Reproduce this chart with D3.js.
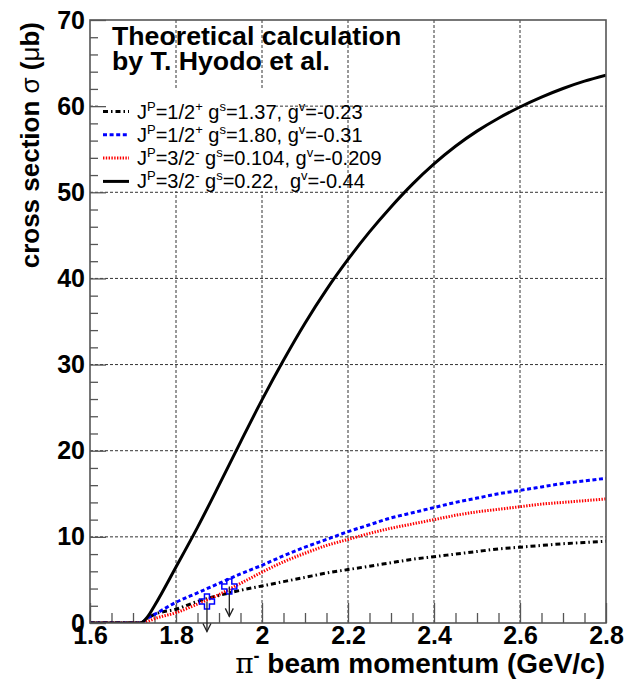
<!DOCTYPE html>
<html>
<head>
<meta charset="utf-8">
<script src="https://cdn.jsdelivr.net/npm/d3@7"></script>
<style>
body { margin: 0; background: #fff; }
svg { display: block; }
text { font-family: "Liberation Sans", Arial, sans-serif; white-space: pre; }
</style>
</head>
<body>
<div id="chart"></div>
<script>
// beam momentum (GeV/c) where the curves were read
var momentum = [1.60, 1.717, 1.735, 1.75, 1.80, 1.85, 1.90, 1.95, 2.00, 2.05, 2.10, 2.15, 2.20,
                2.25, 2.30, 2.35, 2.40, 2.45, 2.50, 2.55, 2.60, 2.65, 2.70, 2.75, 2.80];
// cross sections (ub) for each parameter set
var half137 = [0, 0, 0.6, 1.0, 1.6, 2.5, 3.2, 3.8, 4.3, 4.8, 5.3, 5.8, 6.2,
               6.6, 7.0, 7.4, 7.7, 8.0, 8.3, 8.6, 8.8, 9.0, 9.2, 9.35, 9.5];
var half180 = [0, 0, 0.6, 1.0, 2.4, 3.5, 4.6, 5.7, 6.7, 7.8, 8.8, 9.7, 10.6,
               11.4, 12.2, 12.8, 13.4, 14.0, 14.5, 15.0, 15.4, 15.8, 16.2, 16.5, 16.8];
var threeHalf104 = [0, 0, 0.2, 0.5, 1.2, 2.2, 3.3, 4.6, 5.9, 7.1, 8.1, 9.0, 9.7,
                    10.4, 11.0, 11.5, 12.0, 12.5, 12.9, 13.2, 13.5, 13.8, 14.0, 14.2, 14.4];
var threeHalf22 = [0, 0, 0.8, 2.0, 6.5, 11.1, 16.0, 21.0, 25.9, 30.5, 34.8, 38.7, 42.2,
                   45.4, 48.3, 50.95, 53.3, 55.35, 57.1, 58.6, 59.9, 61.05, 62.05, 62.9, 63.6];

// upper limits (measured)
var limitMomentum = [1.872, 1.924];
var limitSigma = [2.5, 4.25];

var xTicks = [1.6, 1.8, 2.0, 2.2, 2.4, 2.6, 2.8];
var xTickLabels = ["1.6", "1.8", "2", "2.2", "2.4", "2.6", "2.8"];
var yTicks = [0, 10, 20, 30, 40, 50, 60, 70];

var titleLines = ["Theoretical calculation", "by T. Hyodo et al."];
// legend text pieces: [text, isSuperscript]
var legendLabels = [
    [["J", 0], ["P", 1], ["=1/2", 0], ["+", 1], [" g", 0], ["s", 1], ["=1.37, g", 0], ["v", 1], ["=-0.23", 0]],
    [["J", 0], ["P", 1], ["=1/2", 0], ["+", 1], [" g", 0], ["s", 1], ["=1.80, g", 0], ["v", 1], ["=-0.31", 0]],
    [["J", 0], ["P", 1], ["=3/2", 0], ["-", 1], [" g", 0], ["s", 1], ["=0.104, g", 0], ["v", 1], ["=-0.209", 0]],
    [["J", 0], ["P", 1], ["=3/2", 0], ["-", 1], [" g", 0], ["s", 1], ["=0.22,  g", 0], ["v", 1], ["=-0.44", 0]]
];

var series = [
    {values: half137, color: "#000", dash: "5,3,1.5,3"},
    {values: half180, color: "#0000ff", dash: "4,2.6"},
    {values: threeHalf104, color: "#ff0000", dash: "1.4,1.4"},
    {values: threeHalf22, color: "#000", dash: null}
];

var W = 626, H = 686;
var margin = {top: 20, right: 20, bottom: 63, left: 90};

var x = d3.scaleLinear().domain([1.6, 2.8]).range([margin.left, W - margin.right]);
var y = d3.scaleLinear().domain([0, 70]).range([H - margin.bottom, margin.top]);

var svg = d3.select("#chart").append("svg")
    .attr("width", W)
    .attr("height", H);

svg.append("clipPath").attr("id", "plotclip")
    .append("rect")
    .attr("x", margin.left).attr("y", margin.top)
    .attr("width", W - margin.left - margin.right)
    .attr("height", H - margin.top - margin.bottom);

// grid
var grid = svg.append("g").attr("stroke", "#333").attr("stroke-width", 1).attr("stroke-dasharray", "3,2");
grid.selectAll(".gx").data(xTicks.slice(1, -1)).join("line")
    .attr("x1", d => x(d)).attr("x2", d => x(d))
    .attr("y1", y(0)).attr("y2", y(70));
grid.selectAll(".gy").data(yTicks.slice(1, -1)).join("line")
    .attr("x1", x(1.6)).attr("x2", x(2.8))
    .attr("y1", d => y(d)).attr("y2", d => y(d));

// legend box (white fill hides the grid behind it)
svg.append("rect")
    .attr("x", 98).attr("y", 89).attr("width", 175).attr("height", 102)
    .attr("fill", "#fff");

// axes
var xMinor = d3.range(1.6, 2.8001, 0.05).filter(v => Math.abs(v * 5 - Math.round(v * 5)) > 1e-6);
var yMinor = d3.range(0, 70.001, 2).filter(v => v % 10 !== 0);

svg.append("g")
    .attr("transform", "translate(0," + y(0) + ")")
    .call(d3.axisBottom(x).tickValues(xTicks).tickSize(-20).tickPadding(3)
        .tickFormat((d, i) => xTickLabels[i]));
svg.append("g")
    .attr("transform", "translate(0," + y(0) + ")")
    .call(d3.axisBottom(x).tickValues(xMinor).tickSize(-10).tickFormat(""));

svg.append("g")
    .attr("transform", "translate(" + x(1.6) + ",0)")
    .call(d3.axisLeft(y).tickValues(yTicks).tickSize(-16).tickPadding(5));
svg.append("g")
    .attr("transform", "translate(" + x(1.6) + ",0)")
    .call(d3.axisLeft(y).tickValues(yMinor).tickSize(-8).tickFormat(""));

svg.selectAll(".domain").remove();
svg.selectAll(".tick line").attr("stroke", "#555").attr("stroke-width", 1.3);
svg.selectAll(".tick text")
    .attr("fill", "#000")
    .style("font-size", "25px")
    .style("font-weight", "bold")
    .style("font-family", "'Liberation Sans', Arial, sans-serif");

// curves
var line = d3.line()
    .x((d, i) => x(momentum[i]))
    .y(d => y(d))
    .curve(d3.curveMonotoneX);

svg.append("g").attr("clip-path", "url(#plotclip)")
    .selectAll("path").data(series).join("path")
    .attr("d", d => line(d.values))
    .attr("fill", "none")
    .attr("stroke", d => d.color)
    .attr("stroke-width", 3)
    .attr("stroke-dasharray", d => d.dash);

// frame
svg.append("rect")
    .attr("x", x(1.6)).attr("y", y(70))
    .attr("width", x(2.8) - x(1.6)).attr("height", y(0) - y(70))
    .attr("fill", "none").attr("stroke", "#555").attr("stroke-width", 1.6);

// measured upper limits
var crossPath = function (a, s) {
    return "M" + (-a) + "," + (-s) + "L" + a + "," + (-s) + "L" + a + "," + (-a) + "L" + s + "," + (-a) +
        "L" + s + "," + a + "L" + a + "," + a + "L" + a + "," + s + "L" + (-a) + "," + s +
        "L" + (-a) + "," + a + "L" + (-s) + "," + a + "L" + (-s) + "," + (-a) + "L" + (-a) + "," + (-a) + "Z";
};
var limits = svg.append("g");
limits.selectAll("path.mk").data(limitMomentum).join("path")
    .attr("class", "mk")
    .attr("transform", (d, i) => "translate(" + x(d) + "," + y(limitSigma[i]) + ")")
    .attr("d", crossPath(2.5, 7.5))
    .attr("fill", "none").attr("stroke", "#0000ff").attr("stroke-width", 1.5);
var arrowLen = 30;
limits.selectAll("line.ar").data(limitMomentum).join("line")
    .attr("class", "ar")
    .attr("x1", d => x(d)).attr("x2", d => x(d))
    .attr("y1", (d, i) => y(limitSigma[i]))
    .attr("y2", (d, i) => y(limitSigma[i]) + arrowLen)
    .attr("stroke", "#222").attr("stroke-width", 1.3);
limits.selectAll("polyline").data(limitMomentum).join("polyline")
    .attr("points", (d, i) => {
        var tx = x(d), ty = y(limitSigma[i]) + arrowLen;
        return (tx - 4) + "," + (ty - 8) + " " + tx + "," + ty + " " + (tx + 4) + "," + (ty - 8);
    })
    .attr("fill", "none").attr("stroke", "#222").attr("stroke-width", 1.3);

// title
svg.append("g").selectAll("text").data(titleLines).join("text")
    .attr("x", 112).attr("y", (d, i) => 45 + i * 25)
    .style("font-size", "26.7px").style("font-weight", "bold")
    .text(d => d);

// legend
var legend = svg.append("g");
legendLabels.forEach(function (parts, i) {
    var cy = 111.5 + i * 23.3;
    legend.append("line")
        .attr("x1", 103).attr("x2", 129).attr("y1", cy).attr("y2", cy)
        .attr("stroke", series[i].color).attr("stroke-width", 3)
        .attr("stroke-dasharray", series[i].dash);
    var t = legend.append("text").attr("x", 137).attr("y", cy + 7).style("font-size", "20px");
    var up = false;
    parts.forEach(function (p) {
        var ts = t.append("tspan").text(p[0]);
        if (p[1] && !up) { ts.attr("dy", -8).style("font-size", "13px"); up = true; }
        else if (p[1]) { ts.style("font-size", "13px"); }
        else if (up) { ts.attr("dy", 8); up = false; }
    });
});

// axis titles
var xt = svg.append("text")
    .attr("x", 605).attr("y", 673)
    .attr("text-anchor", "end")
    .style("font-size", "28px").style("font-weight", "bold");
xt.append("tspan").style("font-weight", "normal").style("font-family", "'DejaVu Serif', serif").text("\u03c0");
xt.append("tspan").attr("dy", -11).style("font-size", "18px").text("-");
xt.append("tspan").attr("dy", 11).text(" beam momentum (GeV/c)");

var yt = svg.append("text")
    .attr("transform", "translate(39,22) rotate(-90)")
    .attr("text-anchor", "end")
    .style("font-size", "26px").style("font-weight", "bold");
yt.append("tspan").text("cross section ");
yt.append("tspan").style("font-weight", "normal").text("\u03c3");
yt.append("tspan").text(" (");
yt.append("tspan").style("font-weight", "normal").text("\u03bc");
yt.append("tspan").text("b)");
</script>
</body>
</html>
